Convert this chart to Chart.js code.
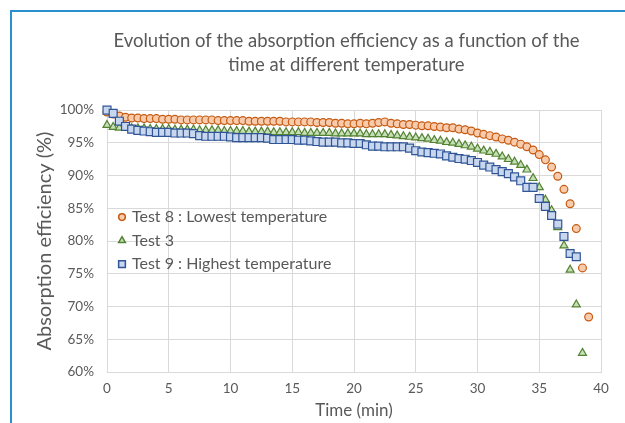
<!DOCTYPE html>
<html>
<head>
<meta charset="utf-8">
<script src="https://cdn.jsdelivr.net/npm/chart.js@4.4.0/dist/chart.umd.min.js"></script>
<style>
  html, body { margin: 0; padding: 0; background: #fff; }
  #wrap { position: relative; width: 625px; height: 423px; }
  #frame { position: absolute; left: 10px; top: 10px; right: 0; bottom: 0;
           border-left: 2px solid #2a8fcd; border-top: 2px solid #2a8fcd; pointer-events: none; }
</style>
</head>
<body>
<div id="wrap">
  <canvas id="chart" width="625" height="423"></canvas>
  <div id="frame"></div>
</div>
<script>
// time in minutes, one reading every 30 s
var timeMin = [0,0.5,1,1.5,2,2.5,3,3.5,4,4.5,5,5.5,6,6.5,7,7.5,8,8.5,9,9.5,
  10,10.5,11,11.5,12,12.5,13,13.5,14,14.5,15,15.5,16,16.5,17,17.5,18,18.5,19,19.5,
  20,20.5,21,21.5,22,22.5,23,23.5,24,24.5,25,25.5,26,26.5,27,27.5,28,28.5,29,29.5,
  30,30.5,31,31.5,32,32.5,33,33.5,34,34.5,35,35.5,36,36.5,37,37.5,38,38.5,39];

// absorption efficiency (%)
var test8 = [99.7,99.4,99.1,98.9,98.8,98.8,98.7,98.7,98.7,98.6,98.6,98.6,98.5,98.5,98.5,98.5,98.5,98.5,98.4,98.4,
  98.4,98.4,98.4,98.3,98.3,98.3,98.3,98.3,98.3,98.2,98.2,98.2,98.2,98.2,98.1,98.1,98.1,98.0,98.0,97.9,
  97.9,98.0,97.9,98.0,98.1,98.2,98.0,97.9,97.8,97.8,97.7,97.6,97.6,97.5,97.4,97.3,97.3,97.1,97.0,96.8,
  96.5,96.3,96.1,95.9,95.6,95.4,95.1,94.8,94.4,93.9,93.2,92.4,91.3,89.9,87.9,85.7,81.9,75.9,68.4];

var test3 = [97.7,97.4,97.3,97.3,97.2,97.2,97.2,97.1,97.1,97.1,97.1,97.0,97.0,97.0,97.0,96.9,96.9,96.9,96.9,96.8,
  96.8,96.8,96.8,96.7,96.7,96.7,96.7,96.6,96.6,96.6,96.6,96.6,96.5,96.5,96.5,96.5,96.5,96.4,96.4,96.4,
  96.4,96.4,96.3,96.3,96.3,96.3,96.2,96.1,96.0,95.9,95.8,95.7,95.6,95.4,95.3,95.1,95.0,94.8,94.6,94.4,
  94.1,93.8,93.6,93.3,92.9,92.5,92.1,91.6,90.9,89.6,88.2,86.3,84.7,82.1,79.3,75.6,70.3,62.9];

var test9 = [100.0,99.5,98.3,97.5,97.1,96.9,96.8,96.7,96.6,96.6,96.6,96.5,96.5,96.5,96.4,96.1,96.0,96.0,96.0,96.0,
  95.9,95.8,95.8,95.8,95.8,95.8,95.7,95.5,95.5,95.5,95.5,95.4,95.4,95.3,95.2,95.1,95.1,95.1,95.0,95.0,
  94.9,94.9,94.7,94.5,94.5,94.4,94.4,94.4,94.4,94.2,93.8,93.6,93.5,93.4,93.3,93.0,92.8,92.6,92.5,92.3,
  92.0,91.6,91.3,90.9,90.6,90.3,89.8,89.2,88.2,88.2,86.5,85.3,83.9,82.6,80.7,78.1,77.6];

var seriesNames = ['Test 8 : Lowest temperature', 'Test 3', 'Test 9 : Highest temperature'];
var xTicks = [0, 5, 10, 15, 20, 25, 30, 35, 40];
var yTicks = [60, 65, 70, 75, 80, 85, 90, 95, 100];

function pts(vals) {
  return vals.map(function (v, i) { return { x: timeMin[i], y: v }; });
}

var grey = '#595959';
var fontFam = 'Lato, "Open Sans", sans-serif';

// legend drawn inside the plot area like the Excel original
var innerLegend = {
  id: 'innerLegend',
  afterLayout: function (chart) {
    // Excel centres the title a bit right of the canvas middle
    if (chart.titleBlock) {
      chart.titleBlock.left += 40;
      chart.titleBlock.right += 40;
    }
  },
  afterDatasetsDraw: function (chart) {
    var ctx = chart.ctx;
    var area = chart.chartArea;
    var x0 = area.left + 15;
    var y0 = area.top + 107;
    ctx.save();
    ctx.font = '16px ' + fontFam;
    ctx.textBaseline = 'middle';
    ctx.textAlign = 'left';
    chart.data.datasets.forEach(function (ds, i) {
      var y = y0 + i * 23.5;
      ctx.fillStyle = ds.backgroundColor;
      ctx.strokeStyle = ds.borderColor;
      ctx.lineWidth = 1.5;
      Chart.helpers.drawPoint(ctx, { pointStyle: ds.pointStyle, radius: ds.pointRadius * 0.85, borderWidth: 1.5, rotation: 0 }, x0, y);
      ctx.fillStyle = grey;
      ctx.fillText(ds.label, x0 + 10, y);
    });
    ctx.restore();
  }
};

new Chart(document.getElementById('chart'), {
  type: 'scatter',
  data: {
    datasets: [
      { label: seriesNames[0], data: pts(test8), pointStyle: 'circle', pointRadius: 3.9,
        backgroundColor: '#f8cbad', borderColor: '#c55a11', borderWidth: 1.2, order: 2, clip: false },
      { label: seriesNames[1], data: pts(test3), pointStyle: 'triangle', pointRadius: 4.6,
        backgroundColor: '#c5e0b4', borderColor: '#548235', borderWidth: 1.2, order: 1, clip: false },
      { label: seriesNames[2], data: pts(test9), pointStyle: 'rect', pointRadius: 5.6,
        backgroundColor: '#c9d7ee', borderColor: '#2f5597', borderWidth: 1.2, order: 0, clip: false }
    ]
  },
  options: {
    responsive: false,
    animation: false,
    events: [],
    layout: { padding: { left: 12, right: 24, top: 0, bottom: 0 } },
    plugins: {
      legend: { display: false },
      tooltip: { enabled: false },
      title: {
        display: true,
        text: ['Evolution of the absorption efficiency as a function of the', 'time at different temperature'],
        color: grey,
        font: { family: fontFam, size: 18.5, weight: 'normal', lineHeight: 1.3 },
        padding: { top: 29, bottom: 33 }
      }
    },
    scales: {
      x: {
        type: 'linear',
        min: 0, max: 40,
        afterBuildTicks: function (s) { s.ticks = xTicks.map(function (v) { return { value: v }; }); },
        afterFit: function (s) { s.height = 51; },
        grid: { color: '#d9d9d9', drawTicks: false },
        border: { color: '#d9d9d9' },
        ticks: { color: grey, padding: 9, font: { family: fontFam, size: 13.5 } },
        title: { display: true, text: 'Time (min)', color: grey, padding: { top: 2, bottom: 2 },
                 font: { family: fontFam, size: 17 } }
      },
      y: {
        type: 'linear',
        min: 60, max: 100,
        afterBuildTicks: function (s) { s.ticks = yTicks.map(function (v) { return { value: v }; }); },
        afterFit: function (s) { s.width = 95; },
        grid: { color: '#d9d9d9', drawTicks: false },
        border: { color: '#d9d9d9' },
        ticks: { color: grey, padding: 13, font: { family: fontFam, size: 13.5 },
                 callback: function (v) { return v + '%'; } },
        title: { display: true, text: 'Absorption efficiency (%)', color: grey, padding: { top: 21, bottom: 21 },
                 font: { family: fontFam, size: 20 } }
      }
    }
  },
  plugins: [innerLegend]
});
</script>
</body>
</html>
